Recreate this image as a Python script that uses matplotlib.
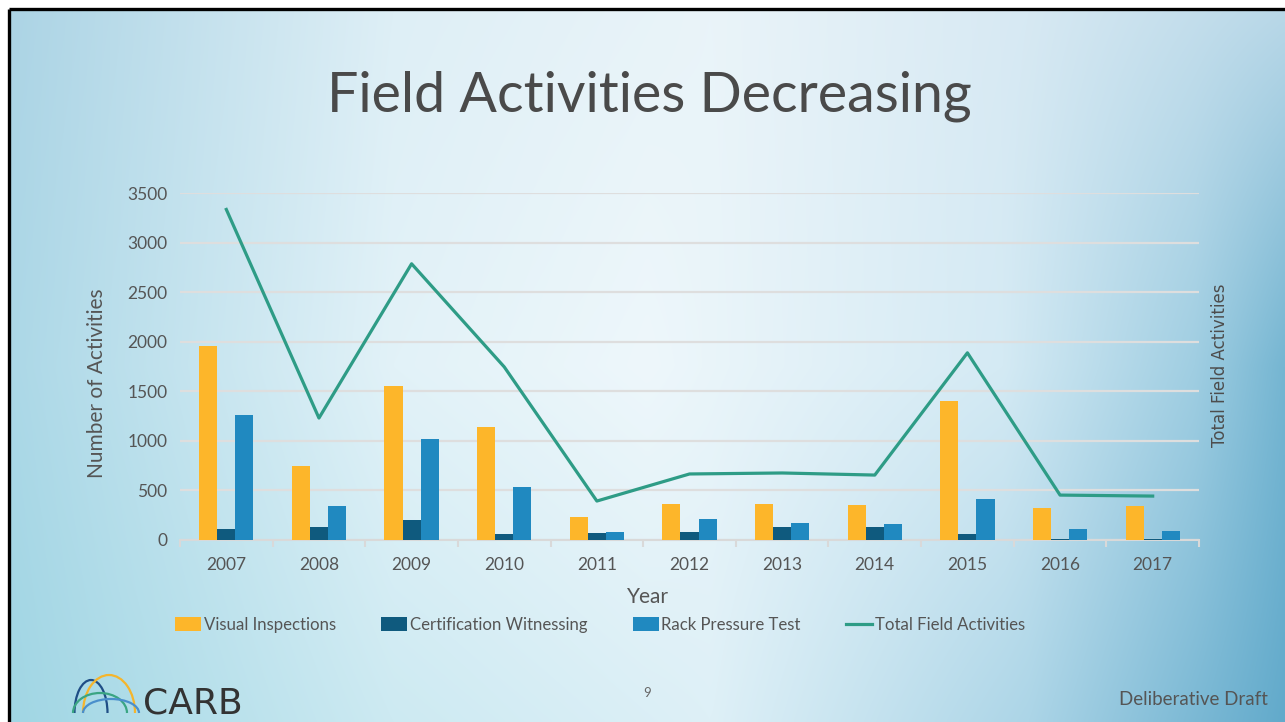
import numpy as np
import matplotlib
matplotlib.use("Agg")
import matplotlib.pyplot as plt
from matplotlib.patches import Arc

years = ["2007", "2008", "2009", "2010", "2011", "2012", "2013", "2014", "2015", "2016", "2017"]
visual = [1955, 750, 1558, 1144, 235, 367, 367, 356, 1407, 326, 339]
witness = [114, 134, 205, 64, 74, 84, 134, 134, 64, 13, 10]
rack = [1265, 346, 1023, 538, 84, 215, 175, 165, 417, 114, 94]
total = [3334, 1230, 2786, 1746, 393, 666, 676, 655, 1888, 453, 443]

yticks = [0, 500, 1000, 1500, 2000, 2500, 3000, 3500]

c_vis = "#fdb62a"
c_wit = "#0f5a7e"
c_rack = "#2089c0"
c_tot = "#2e9c86"
txt = "#555555"

plt.rcParams['font.family'] = ['Lato', 'DejaVu Sans']

W, H = 1285, 722
fig = plt.figure(figsize=(W / 100, H / 100), dpi=100)
fig.patch.set_facecolor("white")

# slide background
bg = fig.add_axes([0, 0, 1, 1], zorder=-10)
bg.set_xlim(0, W)
bg.set_ylim(H, 0)
bg.axis("off")


def row(stops, xs):
    pos = [s[0] for s in stops]
    return np.stack([np.interp(xs, pos, [s[1][k] for s in stops]) for k in range(3)], axis=-1)


xs = np.linspace(0, 1, 400)
top = row([(0, (172, 212, 229)), (0.3, (222, 239, 246)), (0.55, (234, 244, 249)),
           (0.8, (215, 233, 243)), (1.0, (185, 216, 232))], xs)
mid = row([(0, (172, 216, 231)), (0.3, (226, 242, 248)), (0.5, (238, 247, 251)),
           (0.78, (212, 234, 244)), (0.93, (160, 206, 226)), (1.0, (118, 182, 210))], xs)
bot = row([(0, (160, 214, 228)), (0.3, (205, 234, 242)), (0.55, (222, 240, 247)),
           (0.8, (172, 213, 231)), (1.0, (98, 170, 203))], xs)
ys = np.linspace(0, 1, 300)[:, None, None]
img = np.where(ys < 0.5, top + (mid - top) * (ys / 0.5), mid + (bot - mid) * ((ys - 0.5) / 0.5))
bg.imshow(img / 255.0, extent=[10, W, H, 10], aspect="auto", interpolation="bilinear")
bg.plot([9, 9], [9, H], color="black", lw=2.4, solid_capstyle="butt")
bg.plot([9, W], [9, 9], color="black", lw=2.4, solid_capstyle="butt")

# CARB logo (y axis is flipped, so upper half arcs use 180..360)
arcs = [(91, 713, 33, 66, "#1f4e86"), (109, 713, 52, 76, "#f5b52c"),
        (100, 713, 54, 40, "#3aa583"), (111, 713, 56, 28, "#4a8fcc")]
for cx, cy, w, h, col in arcs:
    bg.add_patch(Arc((cx, cy), w, h, theta1=180, theta2=360, color=col, lw=1.6))
bg.text(143, 713, "CARB", fontsize=26, color="#333333", family="DejaVu Sans", va="baseline")
bg.text(647, 697, "9", fontsize=9.5, color="#666666", ha="center", va="baseline")
bg.text(1268, 705, "Deliberative Draft", fontsize=13.5, color="#555555", ha="right", va="baseline")
bg.text(649, 111, "Field Activities Decreasing", fontsize=40, color="#4a4a4a",
        ha="center", va="baseline")

ax = fig.add_axes([180 / W, 1 - 540 / H, (1199 - 180) / W, (540 - 193) / H])
ax.set_facecolor("none")
x = np.arange(len(years))
bw = 0.195
b1 = ax.bar(x - bw, visual, bw, color=c_vis, label="Visual Inspections", zorder=3)
b2 = ax.bar(x, witness, bw, color=c_wit, label="Certification Witnessing", zorder=3)
b3 = ax.bar(x + bw, rack, bw, color=c_rack, label="Rack Pressure Test", zorder=3)

ax.set_xlim(-0.5, len(years) - 0.5)
ax.set_ylim(0, 3500)
ax.set_yticks(yticks)
ax.set_yticklabels([str(v) for v in yticks])
ax.set_xticks(x)
ax.set_xticklabels(years)
ax.set_xticks(np.arange(-0.5, len(years)), minor=True)
ax.tick_params(axis="x", which="major", length=0, pad=12, labelsize=12.5, labelcolor=txt)
ax.tick_params(axis="x", which="minor", length=5, width=1.5, color="#d9d9d9")
ax.tick_params(axis="y", length=0, pad=9, labelsize=12.5, labelcolor=txt)
ax.grid(axis="y", color="#dedede", lw=1.6, zorder=0)
ax.set_axisbelow(True)
for s in ["top", "right", "left"]:
    ax.spines[s].set_visible(False)
ax.spines["bottom"].set_color("#d9d9d9")
ax.spines["bottom"].set_linewidth(1.5)
ax.set_xlabel("Year", fontsize=15, color=txt)
ax.xaxis.set_label_coords(0.459, -0.135)
ax.set_ylabel("Number of Activities", fontsize=15, color=txt)
ax.yaxis.set_label_coords(-0.072, 0.452)

ax2 = ax.twinx()
ax2.set_ylim(0, 3500)
ln, = ax2.plot(x, total, color=c_tot, lw=2.3, label="Total Field Activities", zorder=4)
ax2.set_yticks([])
for s in ax2.spines.values():
    s.set_visible(False)
ax2.set_ylabel("Total Field Activities", fontsize=12, color="#4d4d4d",
               family="DejaVu Sans")
ax2.yaxis.set_label_coords(1.0118, 0.505)

fig.legend([b1, b2, b3, ln], [h.get_label() for h in [b1, b2, b3, ln]],
           loc="center", bbox_to_anchor=(600 / W, 1 - 625 / H), ncol=4, frameon=False,
           fontsize=12.1, labelcolor=txt, handlelength=1.55, handleheight=0.85,
           handletextpad=0.15, columnspacing=2.7)

fig.savefig("out.png", dpi=100)
